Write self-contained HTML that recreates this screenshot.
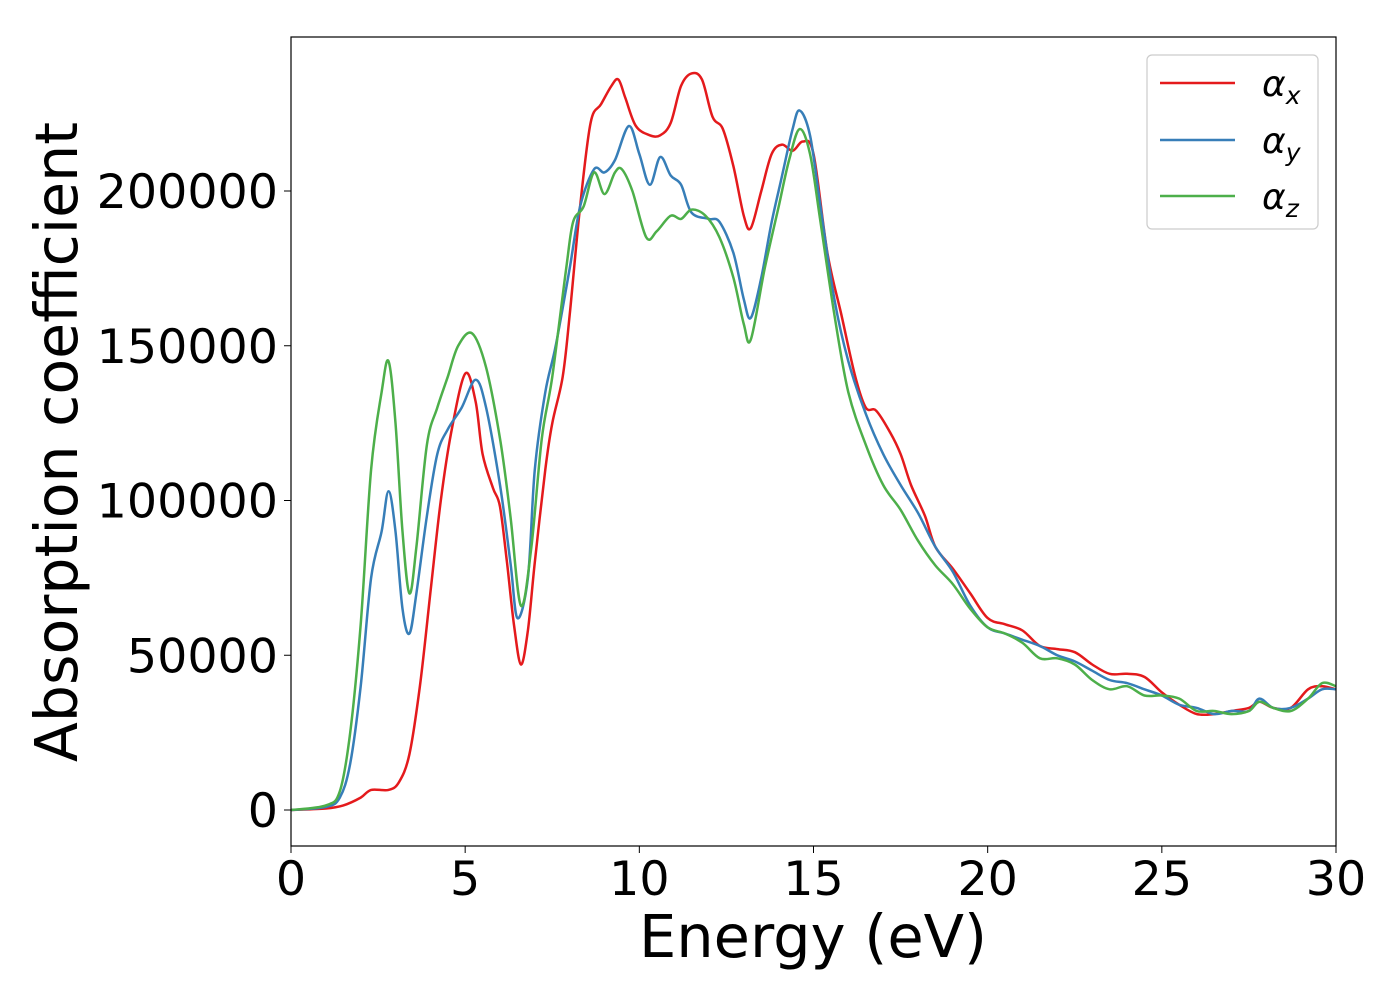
<!DOCTYPE html>
<html><head><meta charset="utf-8"><style>
html,body{margin:0;padding:0;background:#fff;}
svg{display:block;font-family:"DejaVu Sans","Liberation Sans",sans-serif;}
</style></head><body>
<svg id="chart" width="1400" height="1000">
<rect x="0" y="0" width="1400" height="1000" fill="#fff"/>
<g id="series"></g>
<rect x="291" y="37" width="1045" height="809" fill="none" stroke="#000" stroke-width="1.2"/>
<g id="xticks"></g><g id="yticks"></g>
<text x="813" y="957" font-size="59" text-anchor="middle">Energy (eV)</text>
<text transform="translate(77,442) rotate(-90)" font-size="58.5" text-anchor="middle">Absorption coefficient</text>
<g>
<rect x="1147" y="55" width="171" height="174" rx="5" fill="#fff" stroke="#ccc" stroke-width="1.2"/>
<g><line x1="1160" y1="83" x2="1235" y2="83" stroke="#e41a1c" stroke-width="2.5"/><text x="1262" y="96" font-size="36" font-style="italic">α<tspan font-size="25" dy="8">x</tspan></text></g>
<g><line x1="1160" y1="140" x2="1235" y2="140" stroke="#377eb8" stroke-width="2.5"/><text x="1262" y="153" font-size="36" font-style="italic">α<tspan font-size="25" dy="8">y</tspan></text></g>
<g><line x1="1160" y1="196" x2="1235" y2="196" stroke="#4daf4a" stroke-width="2.5"/><text x="1262" y="209" font-size="36" font-style="italic">α<tspan font-size="25" dy="8">z</tspan></text></g>
</g>
</svg>
<script>
const energyX=[0,1,1.5,2,2.3,2.8,3.1,3.4,3.7,4,4.3,4.6,5.0,5.3,5.5,5.8,6,6.2,6.4,6.6,6.8,7,7.3,7.5,7.8,8,8.3,8.6,8.9,9.2,9.4,9.6,9.9,10.3,10.6,10.9,11.2,11.5,11.8,12.1,12.4,12.7,13,13.2,13.5,13.8,14.1,14.4,14.7,15,15.4,15.8,16.2,16.5,16.8,17.2,17.5,17.8,18.2,18.5,19,19.5,20,20.5,21,21.5,22,22.5,23,23.5,24,24.5,25,25.5,26,26.5,27,27.5,27.8,28.2,28.7,29.2,29.6,30];
const alphaX=[0,500,1500,4000,6500,6500,9000,18000,40000,70000,100000,122000,141000,132000,115000,104000,98000,80000,60000,47000,58000,80000,110000,125000,140000,160000,195000,222000,228000,234000,236000,230000,221000,218000,218000,222000,234000,238000,236000,224000,220000,208000,192000,188000,200000,212000,215000,213000,216000,212000,180000,160000,140000,130000,129000,122000,115000,105000,95000,85000,78000,70000,62000,60000,58000,53000,52000,51000,47000,44000,44000,43000,38000,34000,31000,31000,32000,33000,35000,33000,33000,39000,40000,39000];
const energyY=[0,1,1.4,1.7,2,2.3,2.6,2.8,3,3.2,3.4,3.6,3.9,4.2,4.5,4.9,5.3,5.6,6,6.3,6.5,6.8,7,7.3,7.6,8,8.3,8.7,9,9.3,9.7,10,10.3,10.6,10.9,11.2,11.5,12,12.3,12.7,13,13.2,13.5,13.8,14.1,14.4,14.6,14.9,15.2,15.6,16,16.5,17,17.5,18,18.5,19,19.5,20,20.5,21,21.5,22,22.5,23,23.5,24,24.5,25,25.5,26,26.5,27,27.5,27.8,28.2,28.7,29.2,29.6,30];
const alphaY=[0,1000,4000,15000,40000,75000,90000,103000,90000,65000,57000,70000,95000,115000,123000,130000,139000,130000,105000,80000,62000,75000,110000,135000,150000,175000,195000,207000,206000,210000,221000,212000,202000,211000,205000,202000,193000,191000,190000,180000,165000,159000,172000,190000,205000,220000,226000,218000,195000,165000,145000,128000,115000,105000,96000,85000,77000,66000,59000,57000,55000,53000,50000,48000,45000,42000,41000,39000,37000,34000,33000,31000,32000,32000,36000,33000,33000,36000,39000,39000];
const energyZ=[0,1,1.4,1.7,2,2.3,2.6,2.8,3,3.2,3.4,3.6,3.9,4.2,4.5,4.8,5.2,5.6,6,6.3,6.6,6.9,7.2,7.5,7.9,8.1,8.4,8.7,9,9.3,9.5,9.8,10.2,10.5,10.9,11.2,11.5,11.9,12.3,12.7,13,13.2,13.6,14,14.3,14.6,14.9,15.2,15.6,16,16.5,17,17.5,18,18.5,19,19.5,20,20.5,21,21.5,22,22.5,23,23.5,24,24.5,25,25.5,26,26.5,27,27.5,27.8,28.2,28.7,29.2,29.6,30];
const alphaZ=[0,1500,6000,25000,60000,110000,135000,145000,125000,90000,70000,85000,118000,130000,140000,150000,154000,143000,120000,95000,66000,85000,120000,140000,175000,190000,195000,206000,199000,206000,207000,200000,185000,187000,192000,191000,194000,192000,185000,172000,157000,152000,175000,195000,210000,220000,212000,190000,160000,135000,118000,105000,97000,87000,79000,73000,65000,59000,57000,54000,49000,49000,47000,42000,39000,40000,37000,37000,36000,32000,32000,31000,32000,35000,33000,32000,36000,41000,40000];
const xTicks=[0,5,10,15,20,25,30];
const yTicks=[0,50000,100000,150000,200000];

const NS="http://www.w3.org/2000/svg";
const X0=291,X1=1336,Y0=810,YPER=154.75/50000;
function sx(v){return X0+(v/30)*(X1-X0);}
function sy(v){return Y0-v*YPER;}
function pathFor(xs,ys){
  const p=xs.map((x,i)=>[sx(x),sy(ys[i])]);
  let d="M"+p[0][0]+","+p[0][1];
  for(let i=0;i<p.length-1;i++){
    const a=p[Math.max(0,i-1)],b=p[i],c=p[i+1],e=p[Math.min(p.length-1,i+2)];
    const c1=[b[0]+(c[0]-a[0])/6,b[1]+(c[1]-a[1])/6];
    const c2=[c[0]-(e[0]-b[0])/6,c[1]-(e[1]-b[1])/6];
    d+=" C"+c1[0].toFixed(1)+","+c1[1].toFixed(1)+" "+c2[0].toFixed(1)+","+c2[1].toFixed(1)+" "+c[0].toFixed(1)+","+c[1].toFixed(1);
  }
  return d;
}
const g=document.getElementById("series");
[[energyX,alphaX,"#e41a1c","alpha-x-line"],[energyY,alphaY,"#377eb8","alpha-y-line"],[energyZ,alphaZ,"#4daf4a","alpha-z-line"]].forEach(s=>{
  const el=document.createElementNS(NS,"path");
  el.setAttribute("d",pathFor(s[0],s[1]));
  el.setAttribute("fill","none");el.setAttribute("stroke",s[2]);el.setAttribute("stroke-width","2.5");
  
  
  g.appendChild(el);
});
const xg=document.getElementById("xticks");
xTicks.forEach(t=>{
  const l=document.createElementNS(NS,"line");
  l.setAttribute("x1",sx(t));l.setAttribute("x2",sx(t));l.setAttribute("y1",846);l.setAttribute("y2",853);l.setAttribute("stroke","#000");
  
  
  xg.appendChild(l);
  const tx=document.createElementNS(NS,"text");
  tx.setAttribute("x",sx(t));tx.setAttribute("y",895);tx.setAttribute("font-size","47.5");tx.setAttribute("text-anchor","middle");
  tx.textContent=t;
  
  
  xg.appendChild(tx);
});
const yg=document.getElementById("yticks");
yTicks.forEach(t=>{
  const l=document.createElementNS(NS,"line");
  l.setAttribute("x1",284);l.setAttribute("x2",291);l.setAttribute("y1",sy(t));l.setAttribute("y2",sy(t));l.setAttribute("stroke","#000");
  
  
  yg.appendChild(l);
  const tx=document.createElementNS(NS,"text");
  tx.setAttribute("x",278);tx.setAttribute("y",sy(t)+17);tx.setAttribute("font-size","47.5");tx.setAttribute("text-anchor","end");
  tx.textContent=t;
  
  
  yg.appendChild(tx);
});
</script>
</body></html>
